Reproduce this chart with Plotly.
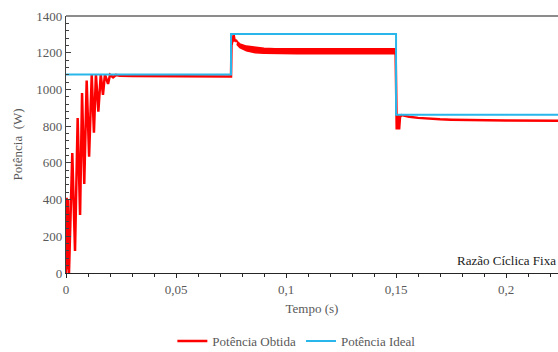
import plotly.graph_objects as go

# Ideal power (step profile)
t_ideal = [0, 0.075, 0.075, 0.15, 0.15, 0.2236]
p_ideal = [1082, 1082, 1302, 1302, 862, 862]

# Obtained power
t_obt = [0, 0.0003, 0.0006, 0.0009, 0.0012, 0.00136, 0.00286, 0.0041, 0.0053, 0.0064,
         0.0073, 0.0083, 0.0094, 0.0105, 0.0117, 0.0127, 0.0136, 0.0147, 0.0158,
         0.0168, 0.0177, 0.0191, 0.0200, 0.0214, 0.0227, 0.0245, 0.030, 0.040,
         0.060, 0.075, 0.0752, 0.0758, 0.0762, 0.0767, 0.0772, 0.0776]
p_obt = [0, 410, 20, 400, 30, 0, 653, 120, 844, 316,
         980, 485, 1048, 634, 1080, 764, 1082, 879, 1082,
         970, 1082, 1030, 1080, 1066, 1079, 1075, 1073, 1072,
         1071, 1071, 1240, 1285, 1297, 1262, 1270, 1258]

# Ripple band after the first step
t_band = [0.0776, 0.079, 0.082, 0.086, 0.090, 0.095, 0.105, 0.120, 0.1498]
p_band_hi = [1264, 1248, 1236, 1228, 1224, 1222, 1221, 1221, 1221]
p_band_lo = [1246, 1228, 1210, 1200, 1197, 1195, 1194, 1194, 1194]

# After the second step
t_obt3 = [0.1498, 0.1501, 0.1503, 0.1506, 0.1510, 0.1514, 0.1518, 0.1525, 0.156, 0.160,
          0.165, 0.170, 0.175, 0.185, 0.200, 0.2236]
p_obt3 = [1205, 860, 782, 850, 860, 782, 850, 860, 851, 845,
          840, 837, 835, 832, 831, 830]

RED = "#FF0000"
BLUE = "#29B6EA"
FONT = "'Liberation Serif', 'DejaVu Serif', serif"

fig = go.Figure()

fig.add_trace(go.Scatter(x=t_obt, y=p_obt, mode="lines", name="Potência Obtida",
                         line=dict(color=RED, width=2.5), legendgroup="obt"))
fig.add_trace(go.Scatter(x=t_band, y=p_band_hi, mode="lines", showlegend=False,
                         line=dict(color=RED, width=1.5), legendgroup="obt", hoverinfo="skip"))
fig.add_trace(go.Scatter(x=t_band, y=p_band_lo, mode="lines", showlegend=False,
                         line=dict(color=RED, width=1.5), fill="tonexty", fillcolor=RED,
                         legendgroup="obt", hoverinfo="skip"))
fig.add_trace(go.Scatter(x=t_obt3, y=p_obt3, mode="lines", showlegend=False,
                         line=dict(color=RED, width=2.5), legendgroup="obt"))
fig.add_trace(go.Scatter(x=t_ideal, y=p_ideal, mode="lines", name="Potência Ideal",
                         line=dict(color=BLUE, width=2)))

fig.update_layout(
    width=558, height=352,
    margin=dict(l=66, r=0, t=16, b=79),
    paper_bgcolor="white", plot_bgcolor="white",
    separators=",.",
    font=dict(family=FONT, size=13, color="#595959"),
    showlegend=True,
    legend=dict(orientation="h", xref="container", yref="container",
                x=0.532, xanchor="center", y=0.031, yanchor="middle",
                font=dict(family=FONT, size=13, color="#595959"),
                itemwidth=30, tracegroupgap=0),
    xaxis=dict(range=[0, 0.2236], dtick=0.05, tick0=0, showgrid=False, zeroline=False,
               showline=True, linecolor="#262626", linewidth=1.2,
               ticks="outside", ticklen=4, tickcolor="#262626",
               minor=dict(dtick=0.01, ticks="outside", ticklen=3, tickcolor="#262626"),
               title=dict(text="Tempo (s)", font=dict(family=FONT, size=13, color="#595959"),
                          standoff=8),
               tickfont=dict(family=FONT, size=13, color="#595959")),
    yaxis=dict(range=[0, 1400], dtick=200, showgrid=False, zeroline=False,
               showline=True, linecolor="#404040", linewidth=1.2,
               ticks="inside", ticklen=5, tickcolor="#404040",
               minor=dict(dtick=40, ticks="inside", ticklen=3, tickcolor="#404040"),
               title=dict(text="Potência  (W)", font=dict(family=FONT, size=13, color="#595959"),
                          standoff=10),
               tickfont=dict(family=FONT, size=13, color="#595959")),
    shapes=[dict(type="line", xref="paper", yref="paper", x0=0, x1=1, y0=1, y1=1,
                 line=dict(color="#8C8C8C", width=2))],
    annotations=[dict(text="Razão Cíclica Fixa", xref="paper", yref="paper", x=1, y=0,
                      xanchor="right", yanchor="bottom", yshift=3, showarrow=False,
                      font=dict(family=FONT, size=13, color="#1a1a1a"))],
)

fig.write_html("out.html")
